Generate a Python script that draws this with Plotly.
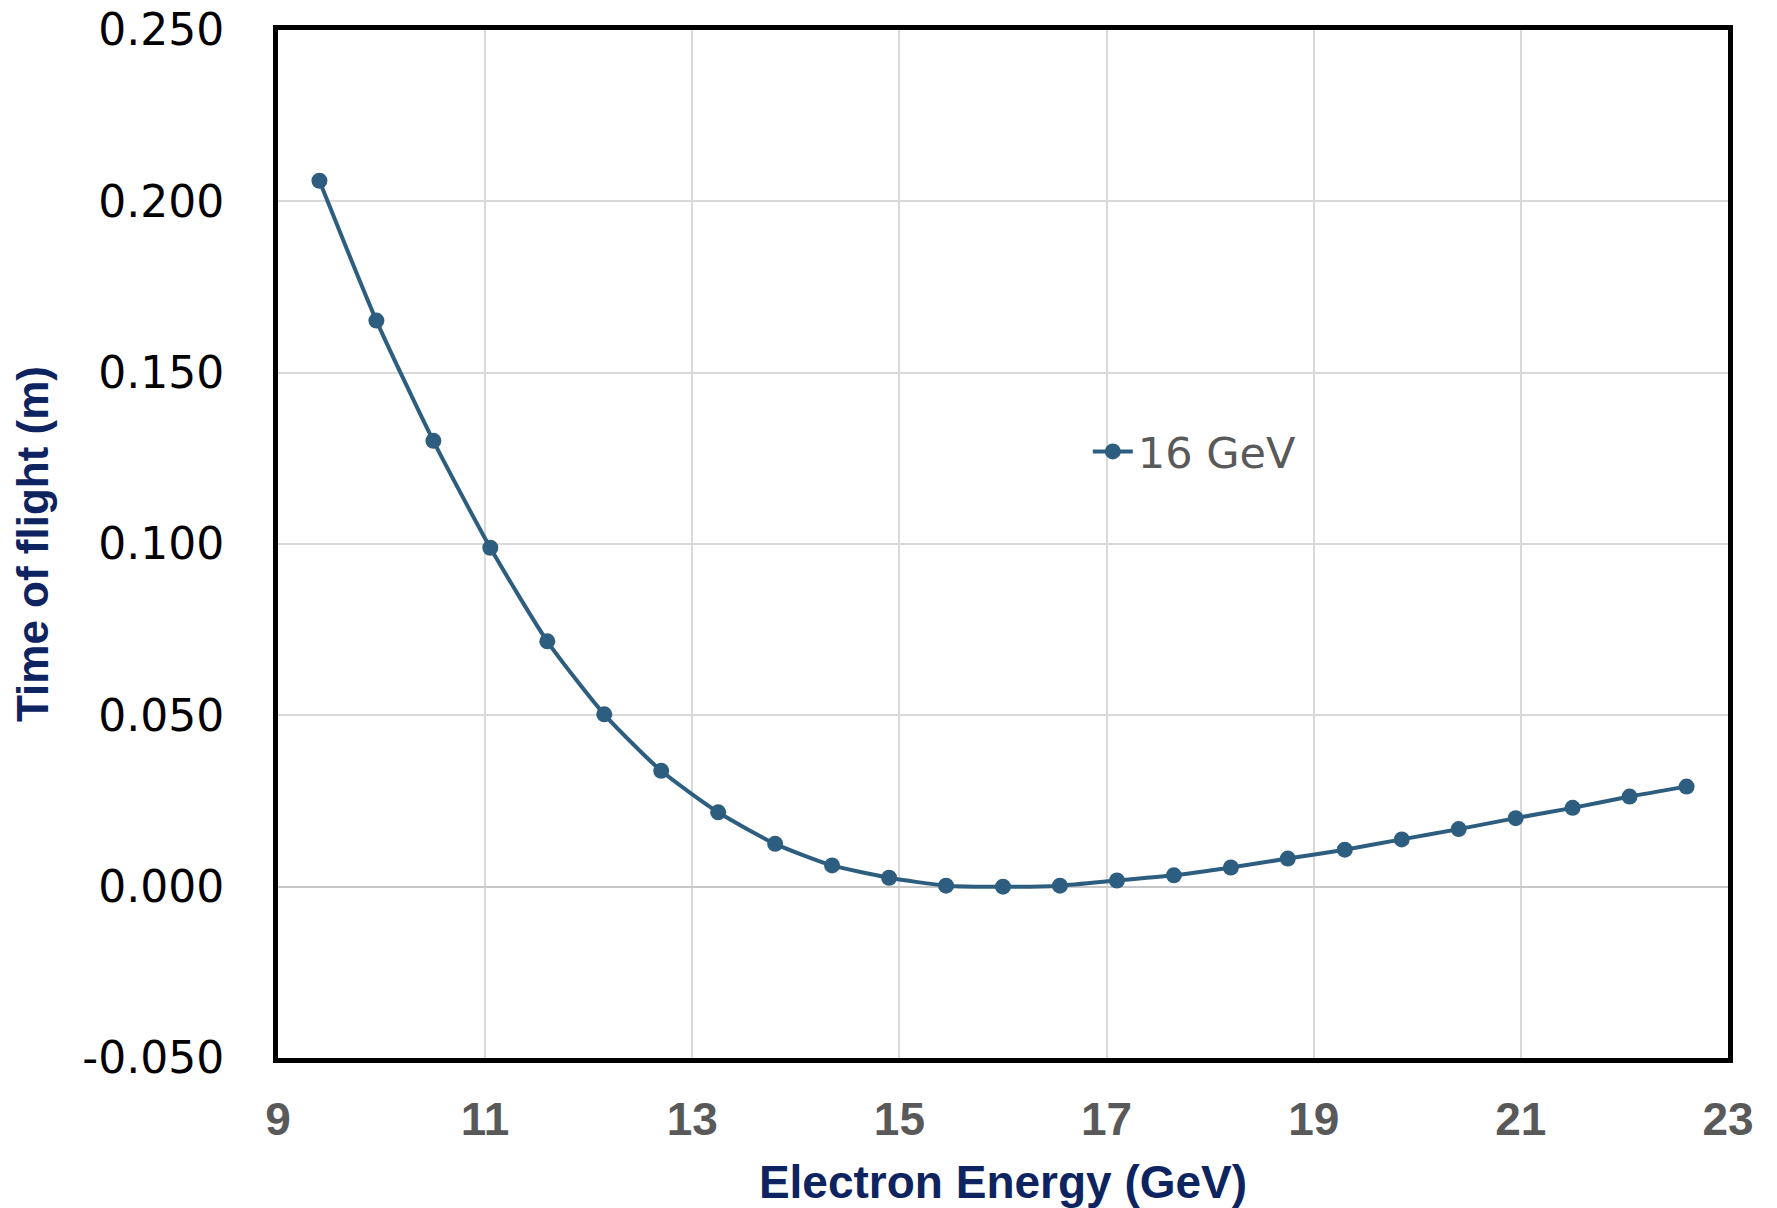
import plotly.graph_objects as go

energy_gev = [9.40, 9.95, 10.50, 11.05, 11.60, 12.15, 12.70, 13.25, 13.80, 14.35,
              14.90, 15.45, 16.00, 16.55, 17.10, 17.65, 18.20, 18.75, 19.30, 19.85,
              20.40, 20.95, 21.50, 22.05, 22.60]
time_of_flight_m = [0.2060, 0.1652, 0.1301, 0.0989, 0.0716, 0.0503, 0.0338, 0.0217,
                    0.0125, 0.0062, 0.0026, 0.0003, 0.0000, 0.0003, 0.0018, 0.0033,
                    0.0056, 0.0082, 0.0108, 0.0138, 0.0168, 0.0200, 0.0230, 0.0263,
                    0.0292]
y_tick_values = [-0.05, 0.0, 0.05, 0.10, 0.15, 0.20, 0.25]
y_tick_labels = ["-0.050", "0.000", "0.050", "0.100", "0.150", "0.200", "0.250"]
series_name = "16 GeV"
x_title = "Electron Energy (GeV)"
y_title = "Time of flight (m)"

color = "#2D5E7F"

fig = go.Figure()
fig.add_trace(go.Scatter(
    x=energy_gev, y=time_of_flight_m, name=series_name,
    mode="lines+markers", line=dict(color=color, width=4, shape="spline", smoothing=0.6),
    marker=dict(color=color, size=16),
    showlegend=True,
))

fig.update_layout(
    width=1761, height=1200,
    margin=dict(l=270, r=41, t=22, b=150, autoexpand=False),
    paper_bgcolor="white", plot_bgcolor="white",
    showlegend=True,
    legend=dict(x=0.5585, y=0.59, xanchor="left", yanchor="middle",
                bgcolor="rgba(0,0,0,0)", itemwidth=40,
                font=dict(family="DejaVu Sans", size=43, color="#595959")),
)
fig.update_xaxes(
    range=[9, 23], dtick=2, tick0=9, automargin=False,
    showgrid=True, gridcolor="#D9D9D9", gridwidth=2,
    showline=True, mirror=True, linecolor="black", linewidth=5,
    zeroline=False,
    ticks="", ticklabelstandoff=17, ticklabeloverflow="allow",
    tickfont=dict(family="Liberation Sans", size=46, color="#595959", weight="bold"),
    title=dict(text=x_title, standoff=39,
               font=dict(family="Liberation Sans", size=46, color="#0E2460", weight="bold")),
)
fig.update_yaxes(
    range=[-0.05, 0.25], tickvals=y_tick_values, ticktext=y_tick_labels, automargin=False,
    showgrid=True, gridcolor="#D9D9D9", gridwidth=2,
    showline=True, mirror=True, linecolor="black", linewidth=5,
    zeroline=True, zerolinecolor="#C8C8C8", zerolinewidth=2,
    ticks="", ticklabelstandoff=40, ticklabeloverflow="allow",
    tickfont=dict(family="DejaVu Sans", size=44, color="black"),
    title=dict(text=y_title, standoff=26,
               font=dict(family="Liberation Sans", size=44, color="#0E2460", weight="bold")),
)

fig.write_html("out.html")
